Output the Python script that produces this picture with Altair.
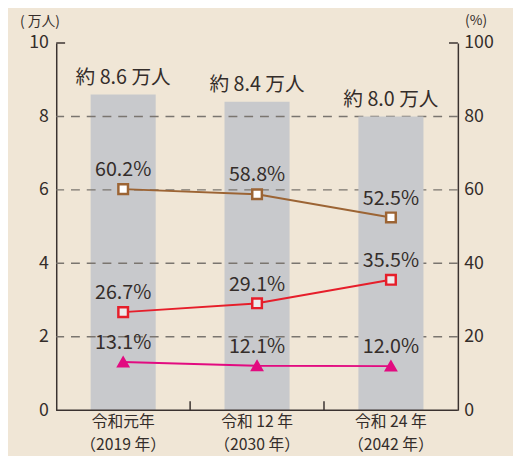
import altair as alt
import pandas as pd

# ---- data ----
categories = ["令和元年", "令和 12 年", "令和 24 年"]
years = ["（2019 年）", "（2030 年）", "（2042 年）"]
totals = [8.6, 8.4, 8.0]
total_labels = ["約 8.6 万人", "約 8.4 万人", "約 8.0 万人"]
series_names = ["s1", "s2", "s3"]
series_brown = [60.2, 58.8, 52.5]
series_red = [26.7, 29.1, 35.5]
series_magenta = [13.1, 12.1, 12.0]
grid_values = [2, 4, 6, 8]
left_ticks = [0, 2, 4, 6, 8, 10]
right_ticks = [0, 20, 40, 60, 80, 100]
boundaries = [0.5, 1.5]

FONT = "Noto Sans CJK JP"
TXT = "#342d2a"
AX = "#3a3230"
BG = "#f0e6d6"

idx = list(range(len(categories)))
bars_df = pd.DataFrame({
    "i": idx, "total": totals, "label": total_labels,
    "cat": categories, "year": years,
})
grid_df = pd.DataFrame({"v": grid_values})
top_df = pd.DataFrame({"v": [10]})
zero_df = pd.DataFrame({"v": [0]})
bnd_df = pd.DataFrame({"b": boundaries})

rows = []
for name, vals in zip(series_names, [series_brown, series_red, series_magenta]):
    for i, v in zip(idx, vals):
        rows.append({"i": i, "s": name, "v": v})
line_df = pd.DataFrame(rows)

xscale = alt.Scale(domain=[-0.5, 2.5], nice=False, zero=False)
yL = alt.Scale(domain=[0, 10], nice=False)
yR = alt.Scale(domain=[0, 100], nice=False)

yLaxis = alt.Axis(values=left_ticks, ticks=False, grid=False, domainColor=AX,
                  domainWidth=1.5, labelFont=FONT, labelFontSize=18, labelColor=TXT,
                  labelPadding=8, title="( 万人)", titleAngle=0, titleAlign="center",
                  titleBaseline="middle", titleX=-17, titleY=-22, titleFont=FONT,
                  titleFontSize=14, titleFontWeight="normal", titleColor=TXT,
                  orient="left")
yRaxis = alt.Axis(values=right_ticks, ticks=False, grid=False, domainColor=AX,
                  domainWidth=1.5, labelFont=FONT, labelFontSize=18, labelColor=TXT,
                  labelPadding=6, title="(%)", titleAngle=0, titleAlign="center",
                  titleBaseline="middle", titleX=18, titleY=-23, titleFont=FONT,
                  titleFontSize=14, titleFontWeight="normal", titleColor=TXT,
                  orient="right")

base_bars = alt.Chart(bars_df).transform_calculate(
    lo="datum.i - 0.243", hi="datum.i + 0.243"
)
bars_front = base_bars.transform_filter("datum.i < 2").mark_bar(color="#c8c9cc").encode(
    x=alt.X("lo:Q", scale=xscale, axis=None),
    x2="hi:Q",
    y=alt.Y("total:Q", scale=yL, axis=yLaxis),
    y2=alt.datum(0),
)
bars_last = base_bars.transform_filter("datum.i >= 2").mark_bar(color="#c8c9cc").encode(
    x=alt.X("lo:Q", scale=xscale, axis=None),
    x2="hi:Q",
    y=alt.Y("total:Q", scale=yL, axis=None),
    y2=alt.datum(0),
)
grid = alt.Chart(grid_df).mark_rule(color="#7a756f", strokeWidth=1.5, strokeDash=[9, 7]).encode(
    y=alt.Y("v:Q", scale=yL, axis=None)
)
baseline = alt.Chart(zero_df).mark_rule(color=AX, strokeWidth=1.5).encode(
    y=alt.Y("v:Q", scale=yL, axis=None)
)
top_tick_l = alt.Chart(top_df).mark_rule(color=AX, strokeWidth=1.5).encode(
    y=alt.Y("v:Q", scale=yL, axis=None), x=alt.value(0), x2=alt.value(9)
)
top_tick_r = alt.Chart(top_df).mark_rule(color=AX, strokeWidth=1.5).encode(
    y=alt.Y("v:Q", scale=yL, axis=None), x=alt.value(399), x2=alt.value(408)
)
bottom_ticks = alt.Chart(bnd_df).mark_rule(color=AX, strokeWidth=1.5).encode(
    x=alt.X("b:Q", scale=xscale, axis=None), y=alt.value(373), y2=alt.value(364)
)
bar_text = alt.Chart(bars_df).mark_text(
    font=FONT, fontSize=20, color=TXT, baseline="middle", dy=-17
).encode(
    x=alt.X("i:Q", scale=xscale, axis=None),
    y=alt.Y("total:Q", scale=yL, axis=None),
    text="label:N",
)
x_labels1 = alt.Chart(bars_df).mark_text(
    font=FONT, fontSize=16, color=TXT, baseline="middle"
).encode(
    x=alt.X("i:Q", scale=xscale, axis=None),
    y=alt.value(385),
    text="cat:N",
)
x_labels2 = alt.Chart(bars_df).mark_text(
    font=FONT, fontSize=16, color=TXT, baseline="middle"
).encode(
    x=alt.X("i:Q", scale=xscale, axis=None),
    y=alt.value(408),
    text="year:N",
)

stroke_scale = alt.Scale(domain=series_names, range=["#9c6434", "#e61e2a", "#e20b80"])
fill_scale = alt.Scale(domain=series_names, range=["#ffffff", "#ececec", "#e20b80"])
shape_scale = alt.Scale(domain=series_names, range=["square", "square", "triangle-up"])
size_scale = alt.Scale(domain=series_names, range=[95, 95, 180])

lb = alt.Chart(line_df)
lines = lb.mark_line(strokeWidth=2).encode(
    x=alt.X("i:Q", scale=xscale, axis=None),
    y=alt.Y("v:Q", scale=yR, axis=yRaxis),
    color=alt.Color("s:N", scale=stroke_scale, legend=None),
    detail="s:N",
)
points = lb.mark_point(filled=True, opacity=1, strokeWidth=2.5).encode(
    x=alt.X("i:Q", scale=xscale, axis=None),
    y=alt.Y("v:Q", scale=yR, axis=None),
    fill=alt.Fill("s:N", scale=fill_scale, legend=None),
    stroke=alt.Stroke("s:N", scale=stroke_scale, legend=None),
    shape=alt.Shape("s:N", scale=shape_scale, legend=None),
    size=alt.Size("s:N", scale=size_scale, legend=None),
)
pct_text = lb.transform_calculate(
    lab="format(datum.v, '.1f') + '%'"
).mark_text(font=FONT, fontSize=20, color=TXT, baseline="middle", dy=-19).encode(
    x=alt.X("i:Q", scale=xscale, axis=None),
    y=alt.Y("v:Q", scale=yR, axis=None),
    text="lab:N",
)

chart = alt.layer(
    bars_front, grid, bars_last, baseline, top_tick_l, top_tick_r, bottom_ticks,
    bar_text, x_labels1, x_labels2, lines, points, pct_text
).resolve_scale(
    y="independent", color="independent", fill="independent",
    stroke="independent", shape="independent", size="independent"
).properties(
    width=408, height=373,
    padding={"left": 49, "top": 32, "right": 56, "bottom": 43},
    autosize=alt.AutoSizeParams(type="none"),
    background=BG,
).configure_view(stroke=None)

chart.save("out.html", embed_options={"renderer": "svg", "actions": False})
